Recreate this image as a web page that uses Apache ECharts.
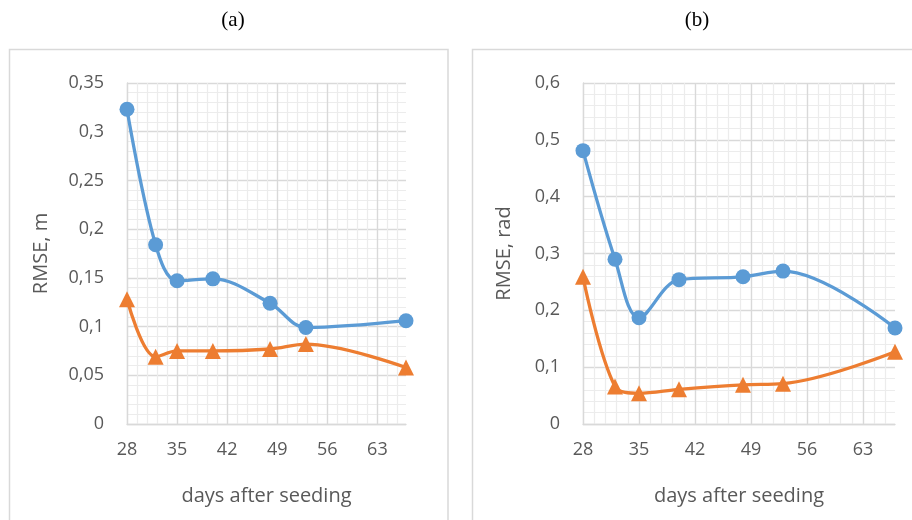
<!DOCTYPE html>
<html><head><meta charset="utf-8">
<script src="https://cdn.jsdelivr.net/npm/echarts@6/dist/echarts.min.js"></script>
<style>html,body{margin:0;padding:0;background:#fff}#c{width:912px;height:520px}</style>
</head><body><div id="c"></div>
<script>
const days = [28, 32, 35, 40, 48, 53, 67];
const xTicks = [28, 35, 42, 49, 56, 63];
const aBlue = [0.323, 0.184, 0.147, 0.149, 0.124, 0.099, 0.106];
const aOrange = [0.128, 0.069, 0.075, 0.075, 0.077, 0.082, 0.058];
const bBlue = [0.481, 0.290, 0.187, 0.254, 0.259, 0.269, 0.169];
const bOrange = [0.259, 0.066, 0.054, 0.061, 0.069, 0.071, 0.127];
const titles = ['(a)', '(b)'];
const yNames = ['RMSE, m', 'RMSE, rad'];
const xName = 'days after seeding';

const BLUE = '#5B9BD5', ORANGE = '#ED7D31', TXT = '#595959';
const FONT = 'Open Sans';
const pairs = ys => days.map((d, i) => [d, ys[i]]);
const fmt = v => String(+(+v).toFixed(2)).replace('.', ',');

const grids = [
  {left: 127, top: 83, width: 279, height: 341},
  {left: 583, top: 83, width: 312, height: 341}
];
function xMajor(gi) {
  return {type: 'value', gridIndex: gi, min: 28, max: 67, interval: 7,
    axisLine: {show: true, lineStyle: {color: '#d9d9d9', width: 1.3}},
    axisTick: {show: false},
    axisLabel: {color: TXT, fontFamily: FONT, fontSize: 18, margin: 17, showMaxLabel: false},
    splitLine: {show: true, showMaxLine: false, lineStyle: {color: '#d9d9d9', width: 1.3}},
    name: xName, nameLocation: 'middle', nameGap: 62,
    nameTextStyle: {color: TXT, fontFamily: FONT, fontSize: 20}, z: 3};
}
function xMinor(gi) {
  return {type: 'value', gridIndex: gi, min: 28, max: 67, interval: 1.4, position: 'top',
    axisLine: {show: false}, axisTick: {show: false}, axisLabel: {show: false},
    splitLine: {show: true, showMinLine: false, showMaxLine: false, lineStyle: {color: '#ececec', width: 1.2}}, z: 1};
}
function yAxis(gi, max, interval, gap) {
  return {type: 'value', gridIndex: gi, min: 0, max: max, interval: interval,
    axisLine: {show: true, lineStyle: {color: '#d9d9d9', width: 1.3}},
    axisTick: {show: false},
    axisLabel: {color: TXT, fontFamily: FONT, fontSize: 18, margin: 23, formatter: fmt},
    splitLine: {show: true, lineStyle: {color: '#d9d9d9', width: 1.3}},
    minorTick: {show: false, splitNumber: 5},
    minorSplitLine: {show: true, lineStyle: {color: '#ececec', width: 1.2}},
    name: yNames[gi], nameLocation: 'middle', nameGap: gap,
    nameTextStyle: {color: TXT, fontFamily: FONT, fontSize: 20}};
}
function line(gi, xi, ys, color, symbol, size) {
  return {type: 'line', xAxisIndex: xi, yAxisIndex: gi, data: pairs(ys), smooth: 0.35,
    symbol: symbol, symbolSize: size, showSymbol: true,
    lineStyle: {color: color, width: 3.3}, itemStyle: {color: color}, z: 5};
}
const chart = echarts.init(document.getElementById('c'), null, {renderer: 'canvas'});
chart.setOption({
  animation: false,
  grid: grids,
  xAxis: [xMinor(0), xMajor(0), xMinor(1), xMajor(1)],
  yAxis: [yAxis(0, 0.35, 0.05, 76), yAxis(1, 0.6, 0.1, 69)],
  series: [
    line(0, 1, aBlue, BLUE, 'circle', 15),
    line(0, 1, aOrange, ORANGE, 'triangle', 16),
    line(1, 3, bBlue, BLUE, 'circle', 15),
    line(1, 3, bOrange, ORANGE, 'triangle', 16)
  ],
  graphic: [
    {type: 'rect', shape: {x: 9.5, y: 49.5, width: 438.5, height: 480}, style: {fill: null, stroke: '#d9d9d9', lineWidth: 1.5}, z: -1},
    {type: 'rect', shape: {x: 472.5, y: 49.5, width: 450, height: 480}, style: {fill: null, stroke: '#d9d9d9', lineWidth: 1.5}, z: -1},
    {type: 'text', x: 233, y: 20, style: {text: titles[0], font: '21px "Liberation Serif"', fill: '#000', align: 'center', verticalAlign: 'middle'}},
    {type: 'text', x: 697, y: 20, style: {text: titles[1], font: '21px "Liberation Serif"', fill: '#000', align: 'center', verticalAlign: 'middle'}}
  ]
});
</script></body></html>
